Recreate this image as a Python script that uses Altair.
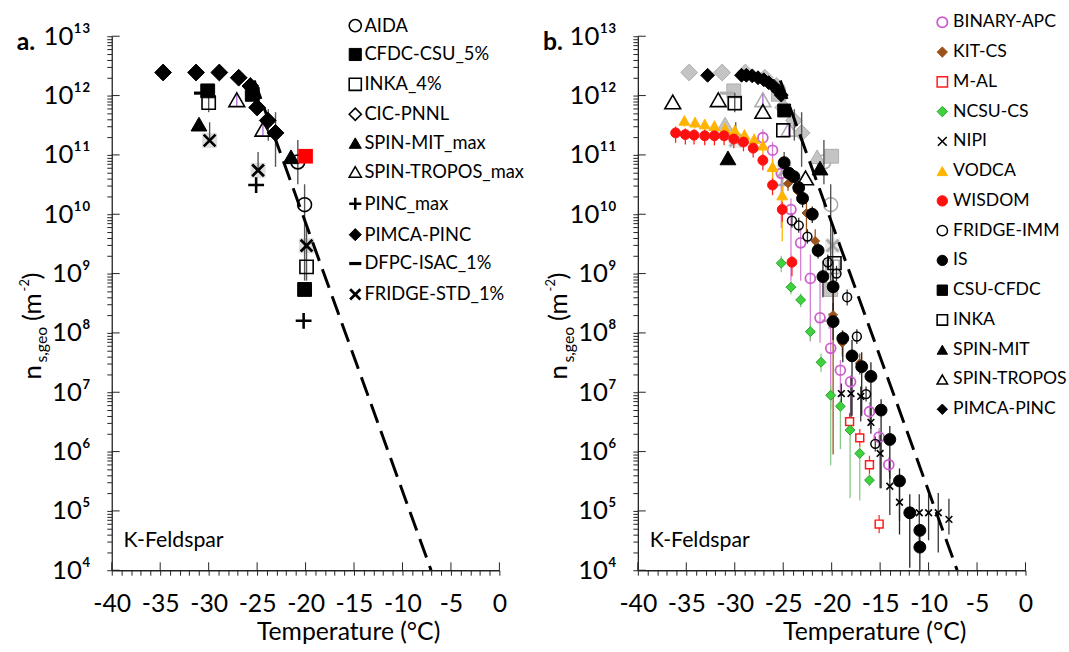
import altair as alt
import pandas as pd

FONT = "Lato"
W, H = 392, 540

# ---------------- panel a: K-feldspar, ns,geo (m^-2) vs temperature (°C) ----------------
AIDA_T = [-20.8, -20.1]
AIDA_NS = [7.6e10, 1.45e10]
CFDC5_T = [-30.1, -25.5, -20.1]
CFDC5_NS = [1.2e12, 1.05e12, 5.4e8]
CFDC5_RED_T = [-20.0]
CFDC5_RED_NS = [9.5e10]
INKA4_T = [-30.0, -19.9]
INKA4_NS = [7.6e11, 1.3e9]
CIC_T = []
CIC_NS = []
SPINMIT_MAX_T = [-31.0, -21.5]
SPINMIT_MAX_NS = [3.3e11, 9.3e10]
SPINTROPOS_MAX_T = [-27.1, -24.4]
SPINTROPOS_MAX_NS = [8.5e11, 2.7e11]
PINC_MAX_T = [-25.1, -20.2]
PINC_MAX_NS = [3.1e10, 1.6e8]
PIMCA_A_T = [-34.7, -31.3, -28.9, -26.9, -25.7, -25.0, -23.9, -23.1]
PIMCA_A_NS = [2.45e12, 2.45e12, 2.45e12, 2.0e12, 1.45e12, 6.3e11, 3.8e11, 2.35e11]
DFPC_T = [-30.8]
DFPC_NS = [1.1e12]
FRIDGE_STD_T = [-29.9, -24.9, -19.9]
FRIDGE_STD_NS = [1.75e11, 5.5e10, 2.95e9]

# uncertainty ranges drawn as vertical bars in panel a
ERR_A_T = [-30.0, -29.9, -24.9, -23.85, -23.1, -20.8, -20.1, -19.9]
ERR_A_LO = [5.25e11, 1.66e11, 5.6e10, 1.74e11, 6.3e10, 3.2e10, 7.6e8, 7.6e8]
ERR_A_HI = [1.12e12, 3.55e11, 1.12e11, 5.9e11, 5.25e11, 1.78e11, 3.2e10, 5.9e9]
ERR_TROPOS_T = [-27.1, -24.4]
ERR_TROPOS_LO = [6.6e11, 2.1e11]
ERR_TROPOS_HI = [1.07e12, 3.3e11]

# ---------------- panel b ----------------
BINARY_T = [-27.1, -26.1, -25.2, -24.2, -23.2, -22.2, -21.2, -20.1, -19.1, -18.05, -16.1, -15.1, -14.1]
BINARY_NS = [1.95e11, 1.2e11, 4.9e10, 1.2e10, 3.3e9, 8.3e8, 1.8e8, 5.5e7, 2.35e7, 1.5e7, 4.7e6, 1.75e6, 6.0e5]
BINARY_LO = [1.66e11, 3.5e10, 5.9e9, 7.6e8, 7.6e8, 7.2e7, 6.8e7, 5.2e6, 8.5e6, 4.0e6, 2.7e6, 1.25e6, 4.5e5]
BINARY_HI = [2.7e11, 1.66e11, 5.9e10, 1.86e10, 5.9e9, 2.1e9, 7.6e8, 1.5e8, 3.5e7, 1.9e7, 6.8e6, 2.5e6, 8.0e5]

KIT_T = [-24.5, -23.5, -22.6, -21.7, -19.85, -18.9, -17.1]
KIT_NS = [3.3e10, 2.45e10, 1.05e10, 3.55e9, 2.0e8, 6.8e7, 3.1e7]
KIT_LO = [2.5e10, 1.8e10, 5.0e9, 2.0e9, 8.9e5, 4.0e7, 2.0e7]
KIT_HI = [4.5e10, 3.2e10, 1.6e10, 5.6e9, 6.3e8, 1.1e8, 4.5e7]

MAL_T = [-18.15, -17.1, -16.1, -15.1]
MAL_NS = [3.2e6, 1.7e6, 6.0e5, 6.0e4]
MAL_LO = [2.3e6, 1.2e6, 4.2e5, 4.2e4]
MAL_HI = [4.5e6, 2.4e6, 8.5e5, 8.5e4]

NCSU_T = [-25.2, -24.2, -23.2, -22.2, -21.1, -20.1, -19.1, -18.1, -17.1, -16.1]
NCSU_NS = [1.5e9, 5.9e8, 3.6e8, 1.05e8, 3.2e7, 8.9e6, 5.8e6, 2.3e6, 9.3e5, 3.3e5]
NCSU_LO = [1.05e9, 4.5e8, 2.7e8, 7.5e7, 2.2e7, 5.9e5, 1.1e6, 1.65e5, 1.5e5, 2.6e5]
NCSU_HI = [2.0e9, 7.5e8, 4.6e8, 1.4e8, 4.5e7, 1.3e7, 7.6e6, 3.2e6, 1.25e6, 4.2e5]

NIPI_T = [-19.0, -18.0, -17.0, -15.95, -15.0, -14.0, -13.0, -10.96, -10.0, -9.0, -7.9]
NIPI_NS = [9.5e6, 9.5e6, 8.5e6, 3.1e6, 9.3e5, 2.6e5, 1.4e5, 9.3e4, 9.3e4, 9.3e4, 7.2e4]
NIPI_LO = [6.3e6, 2.4e6, 3.2e6, 2.0e6, 2.4e5, 8.5e4, 6.8e4, 2.7e4, 3.2e4, 2.0e4, 4.0e4]
NIPI_HI = [1.4e7, 1.9e7, 1.25e7, 5.6e6, 1.9e6, 7.6e5, 2.7e5, 1.9e5, 1.9e5, 2.0e5, 1.6e5]

VODCA_T = [-35.2, -34.1, -33.1, -32.1, -31.0, -30.0, -29.0, -28.0, -27.1, -26.1, -25.1]
VODCA_NS = [3.8e11, 3.55e11, 3.3e11, 3.1e11, 2.8e11, 2.6e11, 2.2e11, 1.85e11, 1.45e11, 6.3e10, 2.1e10]
VODCA_LO = [3.0e11, 2.8e11, 2.6e11, 2.4e11, 2.2e11, 2.0e11, 1.7e11, 1.4e11, 1.05e11, 3.5e10, 3.5e9]
VODCA_HI = [4.6e11, 4.3e11, 4.0e11, 3.8e11, 3.5e11, 3.2e11, 2.7e11, 2.3e11, 1.9e11, 8.5e10, 3.0e10]

WISDOM_T = [-36.1, -35.1, -34.2, -33.1, -32.1, -31.1, -30.1, -29.1, -28.1, -27.1, -26.1, -25.1, -24.1]
WISDOM_NS = [2.35e11, 2.2e11, 2.15e11, 2.1e11, 2.1e11, 2.1e11, 1.85e11, 1.65e11, 1.3e11, 8.1e10, 3.1e10, 1.2e10, 1.55e9]
WISDOM_LO = [1.6e11, 1.5e11, 1.5e11, 1.45e11, 1.45e11, 1.45e11, 1.3e11, 1.15e11, 9.0e10, 5.5e10, 2.1e10, 7.5e9, 9.0e8]
WISDOM_HI = [3.0e11, 2.8e11, 2.7e11, 2.65e11, 2.65e11, 2.65e11, 2.4e11, 2.1e11, 1.7e11, 1.05e11, 4.0e10, 1.6e10, 2.0e9]

FRIDGE_IMM_T = [-24.1, -23.4, -22.5, -20.4, -19.5, -18.4, -17.4, -16.45, -15.5]
FRIDGE_IMM_NS = [7.8e9, 6.5e9, 4.2e9, 1.55e9, 1.0e9, 4.0e8, 8.7e7, 9.3e6, 1.35e6]
FRIDGE_IMM_LO = [5.9e9, 4.9e9, 3.2e9, 1.15e9, 7.5e8, 2.9e8, 6.5e7, 7.0e6, 1.0e6]
FRIDGE_IMM_HI = [1.05e10, 8.7e9, 5.6e9, 2.1e9, 1.35e9, 5.4e8, 1.15e8, 1.25e7, 1.8e6]

IS_T = [-24.9, -24.4, -23.9, -23.4, -23.0, -22.0, -21.4, -20.9, -19.85, -19.85,
        -18.85, -17.9, -16.9, -15.95, -14.9, -14.0, -13.0, -11.94, -10.9, -10.9]
IS_NS = [7.4e10, 4.9e10, 4.3e10, 2.8e10, 1.85e10, 1.0e10, 2.45e9, 8.9e8, 6.0e8, 1.55e8,
         8.1e7, 4.1e7, 2.7e7, 1.85e7, 5.0e6, 1.6e6, 3.2e5, 9.3e4, 4.7e4, 2.45e4]
IS_LO = [6.0e10, 4.0e10, 3.5e10, 2.1e10, 1.3e10, 7.1e9, 1.8e9, 4.0e8, 2.0e8, 7.6e7,
         3.2e7, 4.0e6, 4.0e6, 2.4e6, 2.4e5, 3.5e5, 4.0e4, 1.1e4, 2.5e4, 1.0e4]
IS_HI = [9.1e10, 6.0e10, 5.2e10, 3.6e10, 2.5e10, 1.35e10, 3.3e9, 1.65e9, 1.65e9, 3.2e8,
         1.1e8, 7.6e7, 4.7e7, 3.2e7, 7.6e6, 2.7e6, 5.2e5, 1.9e5, 5.9e4, 3.2e4]

CSU_CFDC_T = [-24.9]
CSU_CFDC_NS = [5.6e11]
INKA_T = [-30.0, -25.0, -19.7]
INKA_NS = [7.4e11, 2.6e11, 1.5e9]
SPINMIT_T = [-30.7, -21.2]
SPINMIT_NS = [8.9e10, 6.0e10]
SPINTROPOS_T = [-36.4, -31.7, -27.1, -22.7]
SPINTROPOS_NS = [7.8e11, 8.5e11, 5.4e11, 4.1e10]
PIMCA_B_T = [-32.8, -29.3, -28.8, -28.2, -27.6, -27.0, -26.5, -26.0, -25.5, -25.2]
PIMCA_B_NS = [2.2e12, 2.2e12, 2.2e12, 2.15e12, 2.0e12, 1.85e12, 1.65e12, 1.45e12, 1.2e12, 1.02e12]

# K-feldspar parameterisation (dashed line)
FIT_T = [-25.3, -7.05]
FIT_NS = [1.8e12, 1.0e4]

# ---------------- marker styles ----------------
PLUS = "M-1,0L1,0M0,-1L0,1"
XMARK = "M-0.85,-0.85L0.85,0.85M0.85,-0.85L-0.85,0.85"
DASH = "M-1,0L1,0"

# name, T, ns, shape, fill, stroke, size, stroke width
A_SERIES = [
    ("AIDA", AIDA_T, AIDA_NS, "circle", "transparent", "black", 196, 1.6),
    ("CFDC-CSU_5%", CFDC5_T, CFDC5_NS, "square", "black", "black", 196, 1),
    ("INKA_4%", INKA4_T, INKA4_NS, "square", "transparent", "black", 180, 1.6),
    ("CIC-PNNL", CIC_T, CIC_NS, "diamond", "transparent", "black", 200, 1.6),
    ("SPIN-MIT_max", SPINMIT_MAX_T, SPINMIT_MAX_NS, "triangle-up", "black", "black", 256, 1),
    ("SPIN-TROPOS_max", SPINTROPOS_MAX_T, SPINTROPOS_MAX_NS, "triangle-up", "transparent", "black", 256, 1.6),
    ("PINC_max", PINC_MAX_T, PINC_MAX_NS, PLUS, "transparent", "black", 256, 2.6),
    ("PIMCA-PINC", PIMCA_A_T, PIMCA_A_NS, "diamond", "black", "black", 289, 1),
    ("DFPC-ISAC_1%", DFPC_T, DFPC_NS, DASH, "transparent", "black", 196, 3.2),
    ("FRIDGE-STD_1%", FRIDGE_STD_T, FRIDGE_STD_NS, XMARK, "transparent", "black", 196, 2.8),
]

B_SERIES = [
    ("BINARY-APC", BINARY_T, BINARY_NS, "circle", "transparent", "#cc5fcc", 100, 1.8),
    ("KIT-CS", KIT_T, KIT_NS, "diamond", "#9a531b", "#9a531b", 81, 1),
    ("M-AL", MAL_T, MAL_NS, "square", "white", "#ff1a1a", 64, 1.5),
    ("NCSU-CS", NCSU_T, NCSU_NS, "diamond", "#3fd23f", "#2e9e2e", 100, 1),
    ("NIPI", NIPI_T, NIPI_NS, XMARK, "transparent", "black", 64, 1.6),
    ("VODCA", VODCA_T, VODCA_NS, "triangle-up", "#ffb400", "#ffb400", 121, 1),
    ("WISDOM", WISDOM_T, WISDOM_NS, "circle", "#ff1010", "#ff1010", 100, 1),
    ("FRIDGE-IMM", FRIDGE_IMM_T, FRIDGE_IMM_NS, "circle", "transparent", "black", 81, 1.5),
    ("IS", IS_T, IS_NS, "circle", "black", "black", 144, 1),
    ("CSU-CFDC", CSU_CFDC_T, CSU_CFDC_NS, "square", "black", "black", 169, 1),
    ("INKA", INKA_T, INKA_NS, "square", "transparent", "black", 169, 1.6),
    ("SPIN-MIT", SPINMIT_T, SPINMIT_NS, "triangle-up", "black", "black", 256, 1),
    ("SPIN-TROPOS", SPINTROPOS_T, SPINTROPOS_NS, "triangle-up", "transparent", "black", 256, 1.6),
    ("PIMCA-PINC", PIMCA_B_T, PIMCA_B_NS, "diamond", "black", "black", 196, 1),
]

B_ERRORS = [
    (BINARY_T, BINARY_LO, BINARY_HI, "#d680d6"),
    (KIT_T, KIT_LO, KIT_HI, "#9a531b"),
    (MAL_T, MAL_LO, MAL_HI, "#ff3030"),
    (NCSU_T, NCSU_LO, NCSU_HI, "#86cc86"),
    (NIPI_T, NIPI_LO, NIPI_HI, "#333333"),
    (VODCA_T, VODCA_LO, VODCA_HI, "#ffb400"),
    (WISDOM_T, WISDOM_LO, WISDOM_HI, "#ff2020"),
    (FRIDGE_IMM_T, FRIDGE_IMM_LO, FRIDGE_IMM_HI, "#333333"),
    (IS_T, IS_LO, IS_HI, "#222222"),
]


def series_frame(series):
    rows = []
    for name, ts, ns, shape, fill, stroke, size, sw in series:
        for t, n in zip(ts, ns):
            rows.append({"series": name, "T": t, "ns": n, "sz": size})
    return pd.DataFrame(rows, columns=["series", "T", "ns", "sz"])


def styles(series):
    names = [s[0] for s in series]
    return (names, [s[3] for s in series], [s[4] for s in series],
            [s[5] for s in series], [s[7] for s in series])


# ---------------- scales and axes ----------------
x_scale = alt.Scale(domain=[-40, 0], nice=False, zero=False)
y_scale = alt.Scale(type="log", domain=[1e4, 1e13], nice=False)

X_TICKS = list(range(-40, 1))
Y_TICKS = [float(m * 10 ** k) for k in range(4, 13) for m in range(1, 10)] + [1e13]
DECADES = [float(10 ** k) for k in range(4, 14)]
MAJOR_T = list(range(-40, 1, 5))

x_axis = alt.Axis(
    values=X_TICKS,
    labelExpr="datum.value % 5 == 0 ? toString(datum.value) : ''",
    title="Temperature (°C)", titleFont=FONT, titleFontSize=25, titleFontWeight="normal",
    titleColor="black", titleX=W / 2 + 43, titleY=70, titleAlign="center",
    titleBaseline="alphabetic",
    labelFont=FONT, labelFontSize=25, labelColor="black", labelPadding=17,
    labelOverlap=False, labelFlush=False, labelBound=False,
    tickSize=5, tickColor="#222", domainColor="#222", grid=False,
)
y_axis = alt.Axis(
    values=Y_TICKS,
    labelExpr=(
        "abs(log(datum.value)/LN10 - round(log(datum.value)/LN10)) < 0.001 ? "
        "'10' + ['\u2074','\u2075','\u2076','\u2077','\u2078','\u2079','\u00b9\u2070','\u00b9\u00b9','\u00b9\u00b2','\u00b9\u00b3']"
        "[round(log(datum.value)/LN10) - 4] : ''"
    ),
    title=None,
    labelFont=FONT, labelFontSize=26, labelColor="black", labelPadding=17,
    labelOverlap=False, labelFlush=False, labelBound=False,
    tickSize=5, tickColor="#222", domainColor="#222", grid=False,
)


def X(field="T"):
    return alt.X(f"{field}:Q", scale=x_scale, axis=x_axis)


def Y(field="ns"):
    return alt.Y(f"{field}:Q", scale=y_scale, axis=y_axis)


def legend(lx, ly, row_pad, symbol_size, font_size, offset):
    return alt.Legend(
        title=None, orient="none", legendX=lx, legendY=ly, padding=0,
        labelFont=FONT, labelFontSize=font_size, labelColor="black", labelOffset=offset,
        labelLimit=300, rowPadding=row_pad, symbolOpacity=1, symbolSize=symbol_size,
    )


def legend_points(series, leg):
    names, shapes, fills, strokes, widths = styles(series)
    return alt.Chart(series_frame(series)).mark_point(opacity=1, fillOpacity=1).encode(
        x=X(), y=Y(),
        shape=alt.Shape("series:N", scale=alt.Scale(domain=names, range=shapes), legend=leg),
        fill=alt.Fill("series:N", scale=alt.Scale(domain=names, range=fills), legend=leg),
        stroke=alt.Stroke("series:N", scale=alt.Scale(domain=names, range=strokes), legend=leg),
        strokeWidth=alt.StrokeWidth("series:N", scale=alt.Scale(type="ordinal", domain=names, range=widths),
                                    legend=leg),
        size=alt.Size("sz:Q", scale=None),
    )


def grey_points(series):
    rows = []
    for name, ts, ns, shape, fill, stroke, size, sw in series:
        for t, n in zip(ts, ns):
            rows.append({"T": t, "ns": n, "shape": shape,
                         "fill": "#c4c4c4" if fill != "transparent" else "transparent",
                         "stroke": "#adadad", "size": size, "sw": sw})
    for t, n in zip(CFDC5_RED_T, CFDC5_RED_NS):
        rows.append({"T": t, "ns": n, "shape": "square", "fill": "#c4c4c4",
                     "stroke": "#adadad", "size": 196, "sw": 1})
    df = pd.DataFrame(rows)
    return alt.Chart(df).mark_point(opacity=1, fillOpacity=1).encode(
        x=X(), y=Y(),
        shape=alt.Shape("shape:N", scale=None),
        fill=alt.Fill("fill:N", scale=None),
        stroke=alt.Stroke("stroke:N", scale=None),
        size=alt.Size("size:Q", scale=None),
        strokeWidth=alt.StrokeWidth("sw:Q", scale=None),
    )


def fridge_backing(colour):
    df = pd.DataFrame({"T": FRIDGE_STD_T, "ns": FRIDGE_STD_NS})
    return alt.Chart(df).mark_point(shape="square", filled=True, color=colour,
                                    opacity=1, size=230).encode(x=X(), y=Y())


def error_bars(ts, lo, hi, colour, width=1.4):
    df = pd.DataFrame({"T": ts, "lo": lo, "hi": hi})
    return alt.Chart(df).mark_rule(color=colour, strokeWidth=width).encode(
        x=X(), y=Y("lo"), y2="hi")


def fit_line():
    df = pd.DataFrame({"T": FIT_T, "ns": FIT_NS})
    return alt.Chart(df).mark_line(color="black", strokeWidth=3, strokeDash=[20, 9],
                                   clip=True).encode(x=X(), y=Y())


def major_ticks():
    ydf = pd.DataFrame({"ns": DECADES})
    xdf = pd.DataFrame({"T": MAJOR_T})
    ym = alt.Chart(ydf).mark_rule(color="#222", strokeWidth=1).encode(
        y=Y(), x=alt.value(0), x2=alt.value(8))
    xm = alt.Chart(xdf).mark_rule(color="#222", strokeWidth=1).encode(
        x=X(), y=alt.value(H), y2=alt.value(H - 8))
    return [ym, xm]


one = alt.Data(values=[{}])


def label(text, x, y, size, angle=0, align="left", baseline="middle", weight="normal"):
    kw = dict(text=text, font=FONT, fontSize=size, color="black", align=align,
              baseline=baseline, fontWeight=weight)
    if angle:
        kw["angle"] = angle
    return alt.Chart(one).mark_text(**kw).encode(x=alt.value(x), y=alt.value(y))


def annotations(letter):
    return [
        label(letter, -96, 6, 25, weight="bold"),
        label("K-Feldspar", 12, 510, 21.5),
        # rotated y-axis title: n_{s,geo} (m^-2)
        label("n", -72, 347, 26, angle=270, baseline="alphabetic"),
        label("s,geo", -65, 330, 16, angle=270, baseline="alphabetic"),
        label("(m", -72, 288, 26, angle=270, baseline="alphabetic"),
        label("-2", -84, 258, 13, angle=270, baseline="alphabetic"),
        label(")", -72, 246, 26, angle=270, baseline="alphabetic"),
    ]


# ---------------- panel a ----------------
panel_a = alt.layer(
    fridge_backing("#dedede"),
    error_bars(ERR_A_T, ERR_A_LO, ERR_A_HI, "#555555"),
    error_bars(ERR_TROPOS_T, ERR_TROPOS_LO, ERR_TROPOS_HI, "#b070d0"),
    legend_points(A_SERIES, legend(237, -20, 10.2, 150, 18.5, 0)),
    alt.Chart(pd.DataFrame({"T": CFDC5_RED_T, "ns": CFDC5_RED_NS})).mark_point(
        shape="square", filled=True, color="#ff0000", opacity=1, size=220).encode(x=X(), y=Y()),
    fit_line(),
    *major_ticks(),
    *annotations("a."),
).properties(width=W, height=H)

# ---------------- panel b ----------------
b_err_layers = [error_bars(t, lo, hi, c, 1.3) for t, lo, hi, c in B_ERRORS]
panel_b = alt.layer(
    fridge_backing("#ececec"),
    grey_points(A_SERIES),
    error_bars(ERR_A_T, ERR_A_LO, ERR_A_HI, "#555555"),
    error_bars(ERR_TROPOS_T, ERR_TROPOS_LO, ERR_TROPOS_HI, "#b070d0"),
    *b_err_layers,
    legend_points(B_SERIES, legend(299, -23, 11.1, 110, 17.8, 2)),
    fit_line(),
    *major_ticks(),
    *annotations("b."),
).properties(width=W, height=H)

chart = alt.hconcat(panel_a, panel_b, spacing=140, bounds="flush").resolve_scale(
    shape="independent", fill="independent", stroke="independent", strokeWidth="independent",
).resolve_legend(
    shape="independent", fill="independent", stroke="independent", strokeWidth="independent",
).properties(
    padding={"left": 17, "top": 10, "right": 2, "bottom": 2},
).configure_view(stroke=None).configure_axis(domainWidth=1.3, tickWidth=1)

chart.save("out.html", embed_options={"renderer": "svg", "actions": False})
